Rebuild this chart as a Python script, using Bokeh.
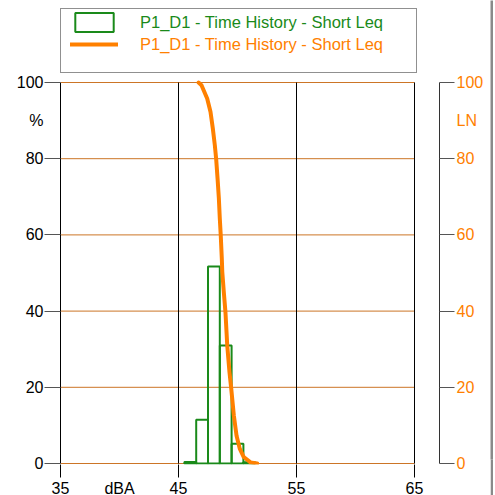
from bokeh.plotting import figure
from bokeh.models import Range1d, LinearAxis, FixedTicker, Legend, LegendItem
from bokeh.layouts import row
from bokeh.embed import file_html
from bokeh.resources import INLINE

# ---- data ----
bin_lo = [45.5, 46.5, 47.5, 48.5, 49.5, 50.5]
bin_hi = [46.5, 47.5, 48.5, 49.5, 50.5, 51.5]
pct = [0.4, 11.5, 51.7, 31.0, 5.2, 0.3]

ln_level = [46.70, 46.95, 47.43, 47.71, 47.91, 48.08, 48.19, 48.31, 48.42, 48.50,
            48.58, 48.67, 48.71, 48.84, 48.98, 49.13, 49.32, 49.47, 49.69, 49.92,
            50.19, 50.53, 51.10, 51.67]
ln_pct = [100.0, 99.3, 95.8, 92.3, 87.9, 83.5, 80.0, 74.8, 69.6, 64.3,
          59.9, 53.8, 50.3, 45.0, 39.7, 31.0, 24.0, 19.6, 12.6, 7.3,
          3.9, 1.7, 0.3, 0.0]

db_ticks = [35, 45, 55, 65]
pct_ticks = [0, 20, 40, 60, 80, 100]
ln_ticks = [0, 20, 40, 60, 80, 100]
x_unit_label = {40: "dBA"}
left_unit_label = {90: "%"}
right_unit_label = {90: "LN"}
series_name = "P1_D1 - Time History - Short Leq"

GREEN = "#1a8a1a"
ORANGE = "#ff8000"
GRID_OR = "#cc7526"
FONT = "Liberation Sans"
FS = "16px"

PX_X = 354 / 30.0      # pixels per dBA
PX_Y = 381 / 100.0     # pixels per percent
x_end = 35 + 379 / PX_X
y_start = -1 / PX_Y
y_end = 463 / PX_Y

p = figure(width=490, height=500, x_range=Range1d(35, x_end),
           y_range=Range1d(y_start, y_end),
           output_backend="svg", toolbar_location=None,
           min_border_left=60, min_border_right=51,
           min_border_top=0, min_border_bottom=36)
p.outline_line_color = None
p.background_fill_color = "white"
p.xgrid.visible = False
p.ygrid.visible = False

# bottom axis
xa = p.xaxis[0]
xa.ticker = FixedTicker(ticks=sorted(db_ticks + list(x_unit_label)), minor_ticks=db_ticks)
xa.major_label_overrides = x_unit_label
xa.axis_line_color = None
xa.major_tick_out = 13
xa.major_tick_in = 0
xa.major_tick_line_color = None
xa.minor_tick_out = 13
xa.minor_tick_in = 0
xa.minor_tick_line_color = "black"
xa.major_label_text_font = FONT
xa.major_label_text_font_size = FS
xa.major_label_text_color = "black"
xa.major_label_standoff = 2

# left axis
ya = p.yaxis[0]
ya.bounds = (pct_ticks[0], pct_ticks[-1])
ya.ticker = FixedTicker(ticks=sorted(pct_ticks + list(left_unit_label)), minor_ticks=pct_ticks)
ya.major_label_overrides = left_unit_label
ya.axis_line_color = "black"
ya.major_tick_out = 16
ya.major_tick_in = 0
ya.major_tick_line_color = None
ya.minor_tick_out = 16
ya.minor_tick_in = 0
ya.minor_tick_line_color = "#555555"
ya.major_label_text_font = FONT
ya.major_label_text_font_size = FS
ya.major_label_text_color = "black"
ya.major_label_standoff = 1

# right axis (LN)
p.extra_y_ranges = {"ln": Range1d(y_start, y_end)}
ra = LinearAxis(y_range_name="ln",
                ticker=FixedTicker(ticks=sorted(ln_ticks + list(right_unit_label)), minor_ticks=ln_ticks))
ra.bounds = (ln_ticks[0], ln_ticks[-1])
ra.major_label_overrides = right_unit_label
ra.axis_line_color = "#333333"
ra.major_tick_out = 15
ra.major_tick_in = 0
ra.major_tick_line_color = None
ra.minor_tick_out = 15
ra.minor_tick_in = 0
ra.minor_tick_line_color = "#555555"
ra.major_label_text_font = FONT
ra.major_label_text_font_size = FS
ra.major_label_text_color = ORANGE
ra.major_label_standoff = 2
p.add_layout(ra, "right")

# grid lines
p.segment(x0=db_ticks[0], x1=db_ticks[-1], y0=pct_ticks, y1=pct_ticks,
          line_color=GRID_OR, line_width=1)
p.segment(x0=db_ticks[1:], x1=db_ticks[1:], y0=pct_ticks[0], y1=pct_ticks[-1],
          line_color="black", line_width=1)

bars = p.quad(left=bin_lo, right=bin_hi, bottom=0, top=pct,
              fill_alpha=0, line_color=GREEN, line_width=2)
curve = p.line(ln_level, ln_pct, line_color=ORANGE, line_width=4,
               line_join="round", line_cap="round")
dummy = p.line(x=[], y=[], line_alpha=0)

# legend frame
box = Legend(items=[LegendItem(label=" ", renderers=[dummy])],
             location=(0, 391), padding=0, glyph_width=354, glyph_height=63,
             label_width=1, label_height=1, label_standoff=0,
             label_text_font_size="1px",
             border_line_color="#222222", border_line_width=1,
             background_fill_color="white", background_fill_alpha=1.0)
p.add_layout(box, "center")

lg1 = Legend(items=[LegendItem(label=series_name, renderers=[bars])],
             location=(10, 430), padding=0, glyph_width=48, glyph_height=24,
             label_height=24, label_standoff=22,
             label_text_font=FONT, label_text_font_size="16.5px",
             label_text_color=GREEN,
             border_line_color=None, background_fill_alpha=0)
p.add_layout(lg1, "center")

lg2 = Legend(items=[LegendItem(label=series_name, renderers=[curve])],
             location=(10, 408), padding=0, glyph_width=48, glyph_height=24,
             label_height=24, label_standoff=22,
             label_text_font=FONT, label_text_font_size="16.5px",
             label_text_color=ORANGE,
             border_line_color=None, background_fill_alpha=0)
p.add_layout(lg2, "center")

# grey page edge at the right
edge = figure(width=3, height=495, output_backend="svg", toolbar_location=None,
              min_border=0, x_axis_type=None, y_axis_type=None,
              border_fill_color="#8a8a8a", background_fill_color="#8a8a8a")
edge.outline_line_color = None
edge.grid.visible = False
edge.scatter(x=[0], y=[0], size=0, alpha=0)

layout = row(p, edge)

html = file_html(layout, INLINE)
html = html.replace("</head>", "<style>html,body{overflow:hidden !important;}</style></head>", 1)
open("out.html", "w").write(html)
